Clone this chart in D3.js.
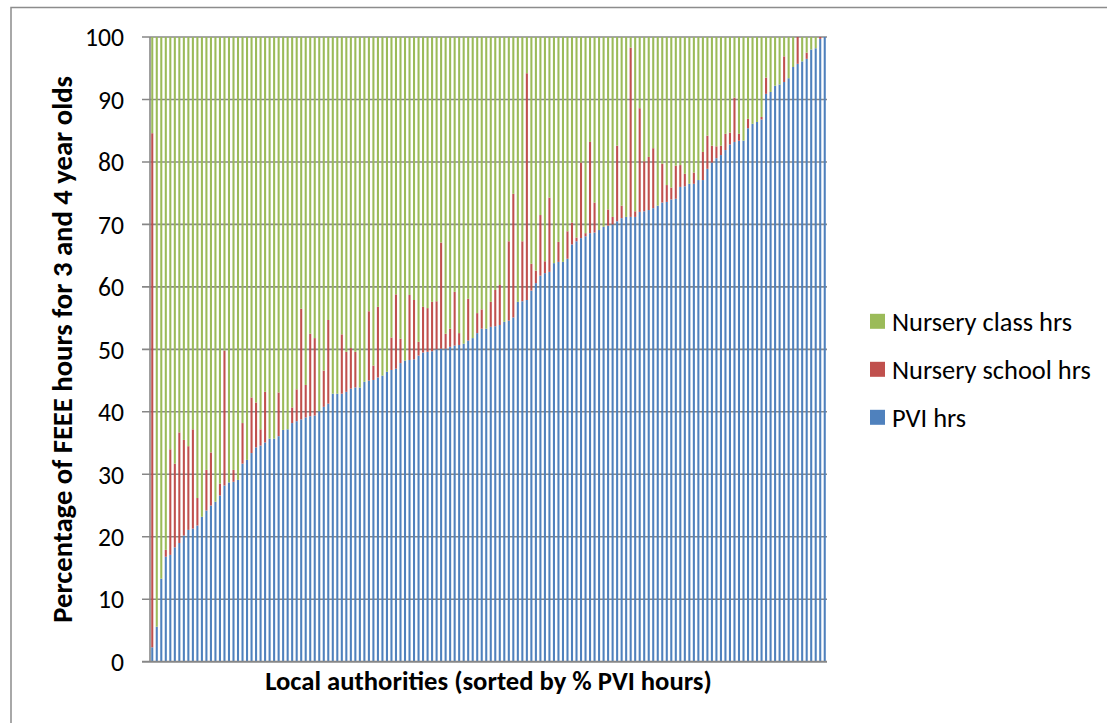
<!DOCTYPE html>
<html>
<head>
<meta charset="utf-8">
<script src="https://cdn.jsdelivr.net/npm/d3@7"></script>
<style>
    html, body { margin: 0; padding: 0; background: #fff; overflow: hidden; }
    #chartBlock { width: 1107px; height: 723px; }
    text { font-family: Carlito, Lato, "Open Sans", sans-serif; fill: #000; }
</style>
</head>
<body>
<div id="chartBlock"></div>
<script>
/*
 * FEEE hours by provider type, one bar per local authority
 */

// Share of hours (%) per local authority, sorted by PVI share
const pviPct = [
    2.3, 5.6, 13.3, 16.8, 17.1, 18.3, 19.0, 20.2, 21.1, 21.3,
    21.8, 23.2, 24.2, 25.0, 25.6, 26.6, 28.2, 28.7, 28.8, 29.1,
    31.7, 32.3, 33.4, 34.3, 34.6, 35.1, 35.7, 35.7, 36.1, 37.1,
    37.2, 38.2, 38.5, 38.8, 39.1, 39.3, 39.4, 40.1, 40.8, 41.3,
    42.9, 42.9, 42.9, 43.2, 43.7, 43.9, 43.9, 44.8, 45.0, 45.1,
    45.5, 45.8, 46.4, 46.7, 46.9, 47.8, 48.2, 48.3, 48.4, 49.0,
    49.5, 49.6, 49.7, 50.0, 50.1, 50.1, 50.4, 50.6, 50.7, 50.9,
    51.4, 51.8, 52.6, 53.3, 53.3, 53.6, 53.7, 53.9, 54.4, 54.6,
    55.1, 57.6, 57.7, 57.9, 59.4, 60.6, 61.8, 62.2, 62.4, 63.8,
    64.0, 64.0, 64.5, 66.8, 67.3, 67.8, 68.1, 68.6, 68.7, 69.1,
    69.6, 69.8, 70.0, 70.5, 71.0, 71.2, 71.2, 71.2, 72.0, 72.1,
    72.3, 72.6, 73.0, 73.5, 73.6, 74.0, 74.1, 76.0, 76.1, 76.5,
    76.5, 77.1, 77.1, 78.9, 79.9, 80.6, 81.1, 81.9, 82.8, 83.2,
    83.4, 83.4, 85.4, 86.1, 86.4, 86.8, 90.9, 91.2, 92.2, 92.4,
    92.8, 93.4, 95.2, 95.7, 96.1, 96.5, 98.0, 98.2, 99.7, 100.0
];

const schoolPct = [
    82.3, 0, 0, 1.1, 16.9, 13.4, 17.7, 15.3, 13.4, 15.9,
    4.4, 0, 6.5, 8.5, 0, 1.9, 21.6, 0, 1.9, 0,
    6.5, 0, 8.9, 7.2, 2.6, 8.1, 0, 0, 7.0, 0,
    0, 2.5, 5.1, 17.7, 5.2, 13.2, 12.4, 0, 5.8, 13.4,
    0, 0, 9.5, 6.4, 6.5, 5.7, 0, 0, 11.1, 2.3,
    11.3, 0, 0, 5.2, 11.9, 3.9, 0, 10.4, 9.5, 2.2,
    7.3, 7.0, 7.9, 7.7, 17.0, 2.4, 2.9, 8.6, 1.9, 0,
    6.7, 0, 3.2, 3.1, 0, 4.0, 5.8, 6.4, 0, 12.7,
    19.8, 0, 9.6, 36.3, 4.3, 2.0, 9.7, 1.9, 11.9, 0,
    3.2, 0, 4.4, 3.5, 0.6, 12.1, 0.5, 14.6, 4.8, 0,
    0, 2.6, 1.2, 12.1, 2.0, 0, 27.1, 0.9, 16.6, 8.0,
    8.5, 9.6, 0, 6.2, 2.7, 1.9, 5.3, 3.5, 2.0, 0,
    1.8, 0, 4.5, 5.3, 2.7, 1.9, 1.5, 2.6, 1.9, 7.1,
    1.1, 0, 1.5, 0, 0, 0.4, 2.6, 0, 0, 0,
    4.1, 0, 0, 4.3, 0, 1.0, 0, 0, 0.3, 0
];

const classPct = [
    15.4, 94.4, 86.7, 82.1, 66.0, 68.3, 63.3, 64.5, 65.5, 62.8,
    73.8, 76.8, 69.3, 66.5, 74.4, 71.5, 50.2, 71.3, 69.3, 70.9,
    61.8, 67.7, 57.7, 58.5, 62.8, 56.8, 64.3, 64.3, 56.9, 62.9,
    62.8, 59.3, 56.4, 43.5, 55.7, 47.5, 48.2, 59.9, 53.4, 45.3,
    57.1, 57.1, 47.6, 50.4, 49.8, 50.4, 56.1, 55.2, 43.9, 52.6,
    43.2, 54.2, 53.6, 48.1, 41.2, 48.3, 51.8, 41.3, 42.1, 48.8,
    43.2, 43.4, 42.4, 42.3, 32.9, 47.5, 46.7, 40.8, 47.4, 49.1,
    41.9, 48.2, 44.2, 43.6, 46.7, 42.4, 40.5, 39.7, 45.6, 32.7,
    25.1, 42.4, 32.7, 5.8, 36.3, 37.4, 28.5, 35.9, 25.7, 36.2,
    32.8, 36.0, 31.1, 29.7, 32.1, 20.1, 31.4, 16.8, 26.5, 30.9,
    30.4, 27.6, 28.8, 17.4, 27.0, 28.8, 1.7, 27.9, 11.4, 19.9,
    19.2, 17.8, 27.0, 20.3, 23.7, 24.1, 20.6, 20.5, 21.9, 23.5,
    21.7, 22.9, 18.4, 15.8, 17.4, 17.5, 17.4, 15.5, 15.3, 9.7,
    15.5, 16.6, 13.1, 13.9, 13.6, 12.8, 6.5, 8.8, 7.8, 7.6,
    3.1, 6.6, 4.8, 0, 3.9, 2.5, 2.0, 1.8, 0, 0
];

// Series in stacking order (bottom to top) and legend order (top to bottom)
const seriesKeys = ["pvi", "school", "cls"];
const seriesNames = { pvi: "PVI hrs", school: "Nursery school hrs", cls: "Nursery class hrs" };
const legendKeys = ["cls", "school", "pvi"];
const yTicks = [0, 10, 20, 30, 40, 50, 60, 70, 80, 90, 100];

const seriesColor = d3.scaleOrdinal()
    .domain(seriesKeys)
    .range(["#4F81BD", "#C0504D", "#9BBB59"]);

const gridColor = "#878787";

var width = 1107, height = 723;
var plot = { left: 150, right: 827, top: 37, bottom: 661.7 };

var rows = pviPct.map(function (v, i) {
    return { la: i, pvi: v, school: schoolPct[i], cls: classPct[i] };
});

var svg = d3.select("#chartBlock").append("svg")
    .attr("width", width)
    .attr("height", height);

// Outer chart frame (bottom/right run off the picture)
svg.append("rect")
    .attr("x", 11).attr("y", 7.5)
    .attr("width", 1120).attr("height", 760)
    .attr("fill", "none")
    .attr("stroke", "#8c8c8c")
    .attr("stroke-width", 1.5);

var x = d3.scaleBand()
    .domain(rows.map(function (d) { return d.la; }))
    .range([plot.left, plot.right])
    .paddingInner(0.54)
    .paddingOuter(0.27);

var y = d3.scaleLinear()
    .domain([0, 100])
    .range([plot.bottom, plot.top]);

// Horizontal gridlines with outside tick marks
svg.append("g")
    .selectAll("line")
    .data(yTicks)
    .enter().append("line")
    .attr("x1", plot.left - 8)
    .attr("x2", plot.right)
    .attr("y1", function (d) { return y(d); })
    .attr("y2", function (d) { return y(d); })
    .attr("stroke", gridColor)
    .attr("stroke-width", 1.6);

// Stacked bars
var stacked = d3.stack().keys(seriesKeys)(rows);

svg.append("g")
    .selectAll("g")
    .data(stacked)
    .enter().append("g")
    .attr("fill", function (s) { return seriesColor(s.key); })
    .selectAll("rect")
    .data(function (s) { return s; })
    .enter().append("rect")
    .attr("x", function (d) { return x(d.data.la); })
    .attr("width", x.bandwidth())
    .attr("y", function (d) { return y(d[1]); })
    .attr("height", function (d) { return Math.max(0, y(d[0]) - y(d[1])); });

// Axis lines
svg.append("line")
    .attr("x1", plot.left).attr("x2", plot.left)
    .attr("y1", plot.top).attr("y2", plot.bottom)
    .attr("stroke", gridColor).attr("stroke-width", 1.6);

svg.append("line")
    .attr("x1", plot.left - 8).attr("x2", plot.right)
    .attr("y1", plot.bottom).attr("y2", plot.bottom)
    .attr("stroke", gridColor).attr("stroke-width", 1.8);

// Scale a label's font so it spans the width seen in the reference
function fitWidth(sel, target) {
    sel.style("font-size", "20px");
    var len = sel.node().getComputedTextLength();
    var size = 20 * target / len;
    sel.style("font-size", size + "px");
    return size;
}

// Y tick labels
var tickText = svg.append("g")
    .selectAll("text")
    .data(yTicks)
    .enter().append("text")
    .attr("x", 124)
    .attr("y", function (d) { return y(d); })
    .attr("dy", "0.36em")
    .attr("text-anchor", "end")
    .text(function (d) { return d; });

var tickSize = fitWidth(tickText.filter(function (d) { return d == 100; }), 39);
tickText.style("font-size", tickSize + "px");

var xTitle = svg.append("text")
    .attr("x", (plot.left + plot.right) / 2)
    .attr("y", 690)
    .attr("text-anchor", "middle")
    .style("font-weight", "bold")
    .text("Local authorities (sorted by % PVI hours)");
fitWidth(xTitle, 447);

var yTitle = svg.append("text")
    .attr("transform", "translate(72," + ((plot.top + plot.bottom) / 2) + ")rotate(-90)")
    .attr("text-anchor", "middle")
    .style("font-weight", "bold")
    .text("Percentage of FEEE hours for 3 and 4 year olds");
fitWidth(yTitle, 547);

// Legend
var legend = svg.append("g")
    .selectAll("g")
    .data(legendKeys)
    .enter().append("g")
    .attr("transform", function (d, i) { return "translate(870," + (321.3 + i * 48) + ")"; });

legend.append("rect")
    .attr("x", 0).attr("y", -7.5)
    .attr("width", 15).attr("height", 15)
    .attr("fill", function (d) { return seriesColor(d); });

var legendText = legend.append("text")
    .attr("x", 22)
    .attr("dy", "0.36em")
    .text(function (d) { return seriesNames[d]; });

var legendSize = fitWidth(legendText.filter(function (d) { return d == "school"; }), 199);
legendText.style("font-size", legendSize + "px");
</script>
</body>
</html>
